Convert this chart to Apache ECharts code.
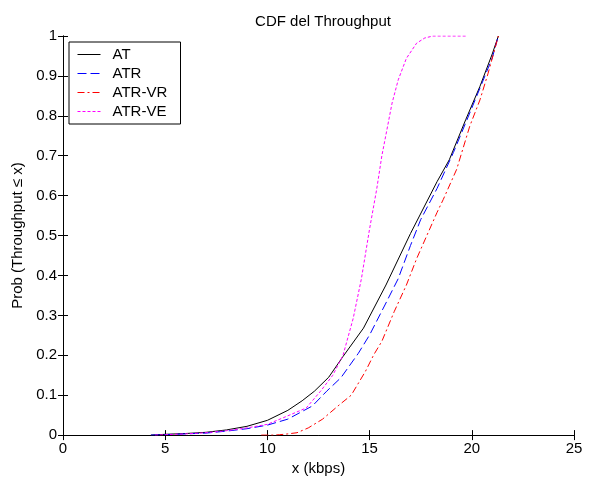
<!DOCTYPE html>
<html>
<head>
<meta charset="utf-8">
<script src="https://cdn.jsdelivr.net/npm/echarts@6/dist/echarts.min.js"></script>
<style>
  html, body { margin: 0; padding: 0; background: #fff; }
  #main { width: 591px; height: 481px; }
</style>
</head>
<body>
<div id="main"></div>
<script>
// values
var seriesNames = ["AT", "ATR", "ATR-VR", "ATR-VE"];

var atX = [4.3, 5, 6, 7, 8, 9, 10, 11, 11.7, 12.3, 13, 13.7, 14.7, 15.8, 17, 18.3, 18.9, 19.7, 20.4, 21, 21.3];
var atY = [0, 0.002, 0.004, 0.007, 0.013, 0.022, 0.037, 0.062, 0.086, 0.11, 0.145, 0.197, 0.268, 0.376, 0.505, 0.635, 0.69, 0.79, 0.874, 0.955, 1.0];

var atrX = [4.3, 5, 6, 7, 8, 9, 10, 11, 12.2, 12.9, 13.6, 14.45, 15, 15.75, 16.4, 17, 17.5, 18.3, 19.1, 19.9, 20.5, 21, 21.3];
var atrY = [0, 0.001, 0.003, 0.005, 0.01, 0.016, 0.025, 0.04, 0.073, 0.11, 0.144, 0.205, 0.251, 0.326, 0.392, 0.475, 0.54, 0.618, 0.708, 0.807, 0.882, 0.945, 1.0];

var atrvrX = [9.7, 10.3, 10.6, 11, 11.45, 12, 12.7, 13.5, 14.1, 14.8, 15.2, 15.6, 16.2, 16.8, 17.3, 17.8, 18.3, 18.6, 19.26, 19.9, 20.4, 20.8, 21.3];
var atrvrY = [0, 0, 0.001, 0.003, 0.006, 0.018, 0.04, 0.075, 0.1, 0.16, 0.201, 0.235, 0.309, 0.376, 0.442, 0.5, 0.558, 0.59, 0.666, 0.774, 0.84, 0.907, 1.0];

var atrveX = [4.5, 5, 6, 7, 8, 9, 10, 10.8, 11.9, 12.6, 13.2, 13.7, 14.2, 14.6, 15.0, 15.35, 15.6, 15.85, 16.1, 16.4, 16.8, 17.3, 17.7, 18.1, 19.7];
var atrveY = [0, 0.001, 0.003, 0.006, 0.011, 0.018, 0.027, 0.044, 0.068, 0.11, 0.15, 0.2, 0.293, 0.392, 0.517, 0.617, 0.7, 0.766, 0.832, 0.89, 0.944, 0.982, 0.995, 1.0, 1.0];

var xTicks = [0, 5, 10, 15, 20, 25];
var yTicks = [0, 0.1, 0.2, 0.3, 0.4, 0.5, 0.6, 0.7, 0.8, 0.9, 1];

function pairs(xs, ys) {
  return xs.map(function (x, i) { return [x, ys[i]]; });
}

var dom = document.getElementById("main");
var myChart = echarts.init(dom, null, { renderer: "canvas" });

var font = "Liberation Sans, Arial, Helvetica, sans-serif";

function yLabel(v) {
  if (v === 0) return "0";
  if (v === 1) return "1";
  return v.toFixed(1);
}

var tickStyle = { inside: true, length: 5, lineStyle: { color: "#000", width: 1 } };

var option = {
  animation: false,
  backgroundColor: "#fff",
  title: {
    text: "CDF del Throughput",
    left: 318,
    top: 9,
    textAlign: "center",
    textStyle: { fontFamily: font, fontSize: 15, fontWeight: "normal", color: "#000" }
  },
  legend: {
    data: seriesNames,
    orient: "vertical",
    left: 69,
    top: 42,
    padding: [5, 8, 5, 8],
    itemWidth: 23,
    itemHeight: 14,
    itemGap: 4,
    backgroundColor: "#fff",
    borderColor: "#000",
    borderWidth: 1,
    borderRadius: 0,
    itemStyle: { opacity: 0, borderWidth: 0 },
    lineStyle: { width: 1 },
    textStyle: { fontFamily: font, fontSize: 15, lineHeight: 14, color: "#000", padding: [0, 0, 0, 7], width: 60 }
  },
  grid: { left: 63, right: 17, top: 36, bottom: 43, containLabel: false },
  xAxis: [
    {
      type: "value", min: 0, max: 25, interval: 5,
      name: "x (kbps)", nameLocation: "middle", nameGap: 24,
      nameTextStyle: { fontFamily: font, fontSize: 15, color: "#000" },
      axisLine: { show: true, lineStyle: { color: "#000", width: 1 } },
      axisTick: tickStyle,
      axisLabel: { fontFamily: font, fontSize: 15, color: "#000", margin: 6 },
      splitLine: { show: false }
    },
    {
      type: "value", min: 0, max: 25, interval: 5, position: "top",
      axisLine: { show: true, lineStyle: { color: "#000", width: 1 } },
      axisTick: tickStyle,
      axisLabel: { show: false },
      splitLine: { show: false }
    }
  ],
  yAxis: [
    {
      type: "value", min: 0, max: 1, interval: 0.1,
      name: "Prob (Throughput \u2264 x)", nameLocation: "middle", nameGap: 35, nameRotate: 90,
      nameTextStyle: { fontFamily: font, fontSize: 15, color: "#000" },
      axisLine: { show: true, lineStyle: { color: "#000", width: 1 } },
      axisTick: tickStyle,
      axisLabel: { fontFamily: font, fontSize: 15, color: "#000", margin: 6, formatter: yLabel },
      splitLine: { show: false }
    },
    {
      type: "value", min: 0, max: 1, interval: 0.1, position: "right",
      axisLine: { show: true, lineStyle: { color: "#000", width: 1 } },
      axisTick: tickStyle,
      axisLabel: { show: false },
      splitLine: { show: false }
    }
  ],
  series: [
    {
      name: "AT", type: "line", data: pairs(atX, atY),
      showSymbol: false, symbol: "none", color: "#000000",
      lineStyle: { color: "#000000", width: 1, type: "solid" }
    },
    {
      name: "ATR", type: "line", data: pairs(atrX, atrY),
      showSymbol: false, symbol: "none", color: "#0000ff",
      lineStyle: { color: "#0000ff", width: 1, type: [9, 4] }
    },
    {
      name: "ATR-VR", type: "line", data: pairs(atrvrX, atrvrY),
      showSymbol: false, symbol: "none", color: "#ff0000",
      lineStyle: { color: "#ff0000", width: 1, type: [7, 3, 2, 3] }
    },
    {
      name: "ATR-VE", type: "line", data: pairs(atrveX, atrveY),
      showSymbol: false, symbol: "none", color: "#ff00ff",
      lineStyle: { color: "#ff00ff", width: 1, type: [3, 2] }
    }
  ]
};

myChart.setOption(option);
window.addEventListener("resize", myChart.resize);
</script>
</body>
</html>
